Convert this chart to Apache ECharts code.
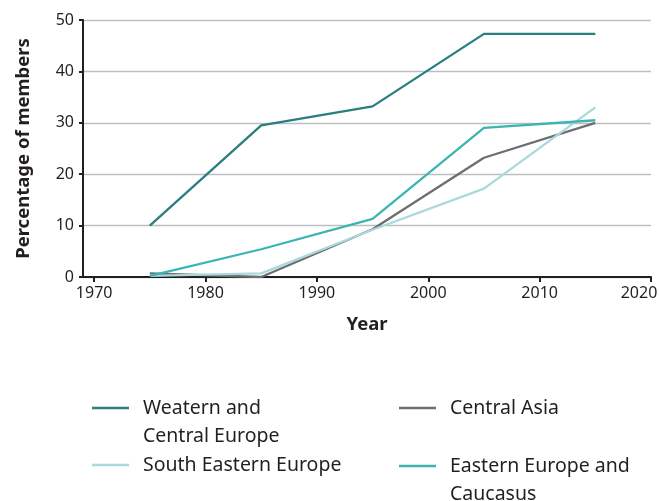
<!DOCTYPE html>
<html>
<head>
<meta charset="utf-8">
<script src="https://cdn.jsdelivr.net/npm/echarts@6/dist/echarts.min.js"></script>
<style>
  html, body { margin: 0; padding: 0; background: #fff; }
  #chart { width: 660px; height: 501px; }
</style>
</head>
<body>
<div id="chart"></div>
<script>
// data
const years = [1975, 1985, 1995, 2005, 2015];
const western = [10, 29.5, 33.2, 47.3, 47.3];
const centralAsia = [0.7, 0, 9.3, 23.2, 30];
const southEastern = [0.2, 0.7, 9.2, 17.2, 33];
const easternCaucasus = [0.2, 5.4, 11.3, 29, 30.5];
const xTicks = [1970, 1980, 1990, 2000, 2010, 2020];

const names = ["Weatern and Central Europe", "Central Asia", "South Eastern Europe", "Eastern Europe and Caucasus"];
const colors = ["#2a7e80", "#6d6e71", "#a9d9de", "#3ab5b1"];
const values = [western, centralAsia, southEastern, easternCaucasus];

const font = "Noto Sans";
const chart = echarts.init(document.getElementById("chart"));

// one legend per entry so the two-column, wrapped layout can be placed.
// wrapped names get an empty first line so the icon sits on the first text line
const legendSpot = [
  { left: 92, top: 366, wrap: "\nWeatern and\nCentral Europe" },
  { left: 399, top: 394, wrap: null },
  { left: 92, top: 451, wrap: null },
  { left: 399, top: 424, wrap: "\nEastern Europe and\nCaucasus" },
];
const legends = names.map((n, i) => ({
  data: [n],
  left: legendSpot[i].left,
  top: legendSpot[i].top,
  padding: 0,
  icon: "rect",
  itemWidth: 37,
  itemHeight: 2.5,
  itemGap: 0,
  selectedMode: false,
  formatter: () => legendSpot[i].wrap || n,
  textStyle: {
    fontFamily: font,
    fontSize: 19.5,
    color: "#231f20",
    lineHeight: 28,
    padding: [0, 0, 0, 9],
  },
}));

chart.setOption({
  animation: false,
  grid: { left: 83, right: 9, top: 20, bottom: 224, outerBoundsMode: "none" },
  legend: legends,
  xAxis: {
    type: "value",
    min: 1969,
    max: 2020,
    name: "Year",
    nameLocation: "middle",
    nameGap: 38,
    nameTextStyle: { fontFamily: font, fontSize: 18.5, fontWeight: "bold", color: "#231f20" },
    axisLine: { show: true, lineStyle: { color: "#231f20", width: 2 } },
    axisTick: { show: true, length: 5, customValues: xTicks, lineStyle: { color: "#231f20", width: 2 } },
    axisLabel: {
      customValues: xTicks,
      // last label sits a little left of its tick, as in the original
      formatter: (v) => (v === 2020 ? "{last|" + v + "}" : String(v)),
      rich: { last: { fontFamily: font, fontSize: 16, color: "#231f20", padding: [0, 24, 0, 0] } },
      fontFamily: font, fontSize: 16, color: "#231f20", margin: 8,
    },
    splitLine: { show: false },
  },
  yAxis: {
    type: "value",
    min: 0,
    max: 50,
    interval: 10,
    name: "Percentage of members",
    nameLocation: "middle",
    nameGap: 50,
    nameTextStyle: { fontFamily: font, fontSize: 18.5, fontWeight: "bold", color: "#231f20" },
    axisLine: { show: true, lineStyle: { color: "#231f20", width: 2 } },
    axisTick: { show: true, length: 4, lineStyle: { color: "#231f20", width: 2 } },
    axisLabel: { fontFamily: font, fontSize: 16, color: "#231f20", margin: 9 },
    splitLine: { lineStyle: { color: "#bcbec0", width: 1.3 } },
  },
  series: names.map((n, i) => ({
    name: n,
    type: "line",
    data: years.map((y, k) => [y, values[i][k]]),
    showSymbol: false,
    color: colors[i],
    lineStyle: { width: 2.3, color: colors[i] },
  })),
});
</script>
</body>
</html>
